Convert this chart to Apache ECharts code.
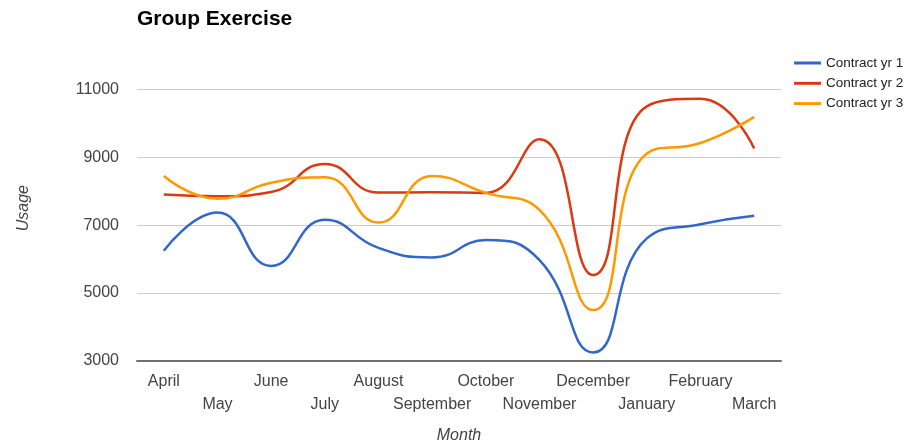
<!DOCTYPE html>
<html>
<head>
<meta charset="utf-8">
<script src="https://cdn.jsdelivr.net/npm/echarts@6/dist/echarts.min.js"></script>
<style>
html,body{margin:0;padding:0;background:#fff;}
#chart{width:914px;height:445px;}
</style>
</head>
<body>
<div id="chart"></div>
<script>
const months = ['April','May','June','July','August','September','October','November','December','January','February','March'];
const contractYr1 = [6250, 7370, 5800, 7160, 6330, 6050, 6560, 5970, 3250, 6610, 7030, 7280];
const contractYr2 = [7900, 7850, 7980, 8800, 7960, 7970, 7950, 9530, 5530, 10500, 10720, 9260];
const contractYr3 = [8450, 7780, 8250, 8410, 7080, 8450, 7950, 7450, 4500, 9110, 9420, 10190];
const seriesNames = ['Contract yr 1','Contract yr 2','Contract yr 3'];
const colors = ['#3366cc','#dc3912','#ff9900'];
const yTicks = {min: 3000, max: 12000, interval: 2000};

const font = 'Arial, "Liberation Sans", sans-serif';
const chart = echarts.init(document.getElementById('chart'));
const data = [contractYr1, contractYr2, contractYr3];

chart.setOption({
  animation: false,
  color: colors,
  title: {
    text: 'Group Exercise',
    left: 132, top: 4,
    textStyle: {fontFamily: font, fontSize: 21, fontWeight: 'bold', color: '#000'}
  },
  legend: {
    orient: 'vertical',
    left: 794, top: 55,
    padding: 0,
    itemWidth: 27, itemHeight: 3, itemGap: 4.3,
    icon: 'rect',
    textStyle: {fontFamily: font, fontSize: 13.5, color: '#222', lineHeight: 16}
  },
  grid: {left: 137, right: 133, top: 55.4, bottom: 84, outerBoundsMode: 'none', containLabel: false},
  xAxis: {
    type: 'category',
    data: months,
    boundaryGap: true,
    name: 'Month',
    nameLocation: 'middle',
    nameGap: 67,
    nameTextStyle: {fontFamily: font, fontSize: 16, fontStyle: 'italic', color: '#444'},
    axisLine: {lineStyle: {color: '#707070', width: 2}},
    axisTick: {show: false},
    axisLabel: {
      interval: 0,
      hideOverlap: false,
      margin: 9,
      fontFamily: font, fontSize: 16, color: '#444', lineHeight: 23,
      formatter: function (v, i) { return i % 2 === 1 ? '\n' + v : v; }
    }
  },
  yAxis: {
    type: 'value',
    min: yTicks.min, max: yTicks.max, interval: yTicks.interval,
    name: 'Usage',
    nameLocation: 'middle',
    nameGap: 105,
    nameRotate: 90,
    nameTextStyle: {fontFamily: font, fontSize: 16, fontStyle: 'italic', color: '#444'},
    axisLine: {show: false},
    axisTick: {show: false},
    axisLabel: {
      margin: 18, fontFamily: font, fontSize: 16, color: '#444', showMaxLabel: false,
      formatter: function (v) { return String(v); }
    },
    splitLine: {lineStyle: {color: '#cccccc', width: 1}, showMaxLine: false, showMinLine: false}
  },
  series: data.map((d, i) => ({
    name: seriesNames[i],
    type: 'line',
    data: d,
    smooth: 0.5,
    symbol: 'none',
    lineStyle: {width: 2.5, color: colors[i]},
    z: 3 + i
  }))
});
</script>
</body>
</html>
